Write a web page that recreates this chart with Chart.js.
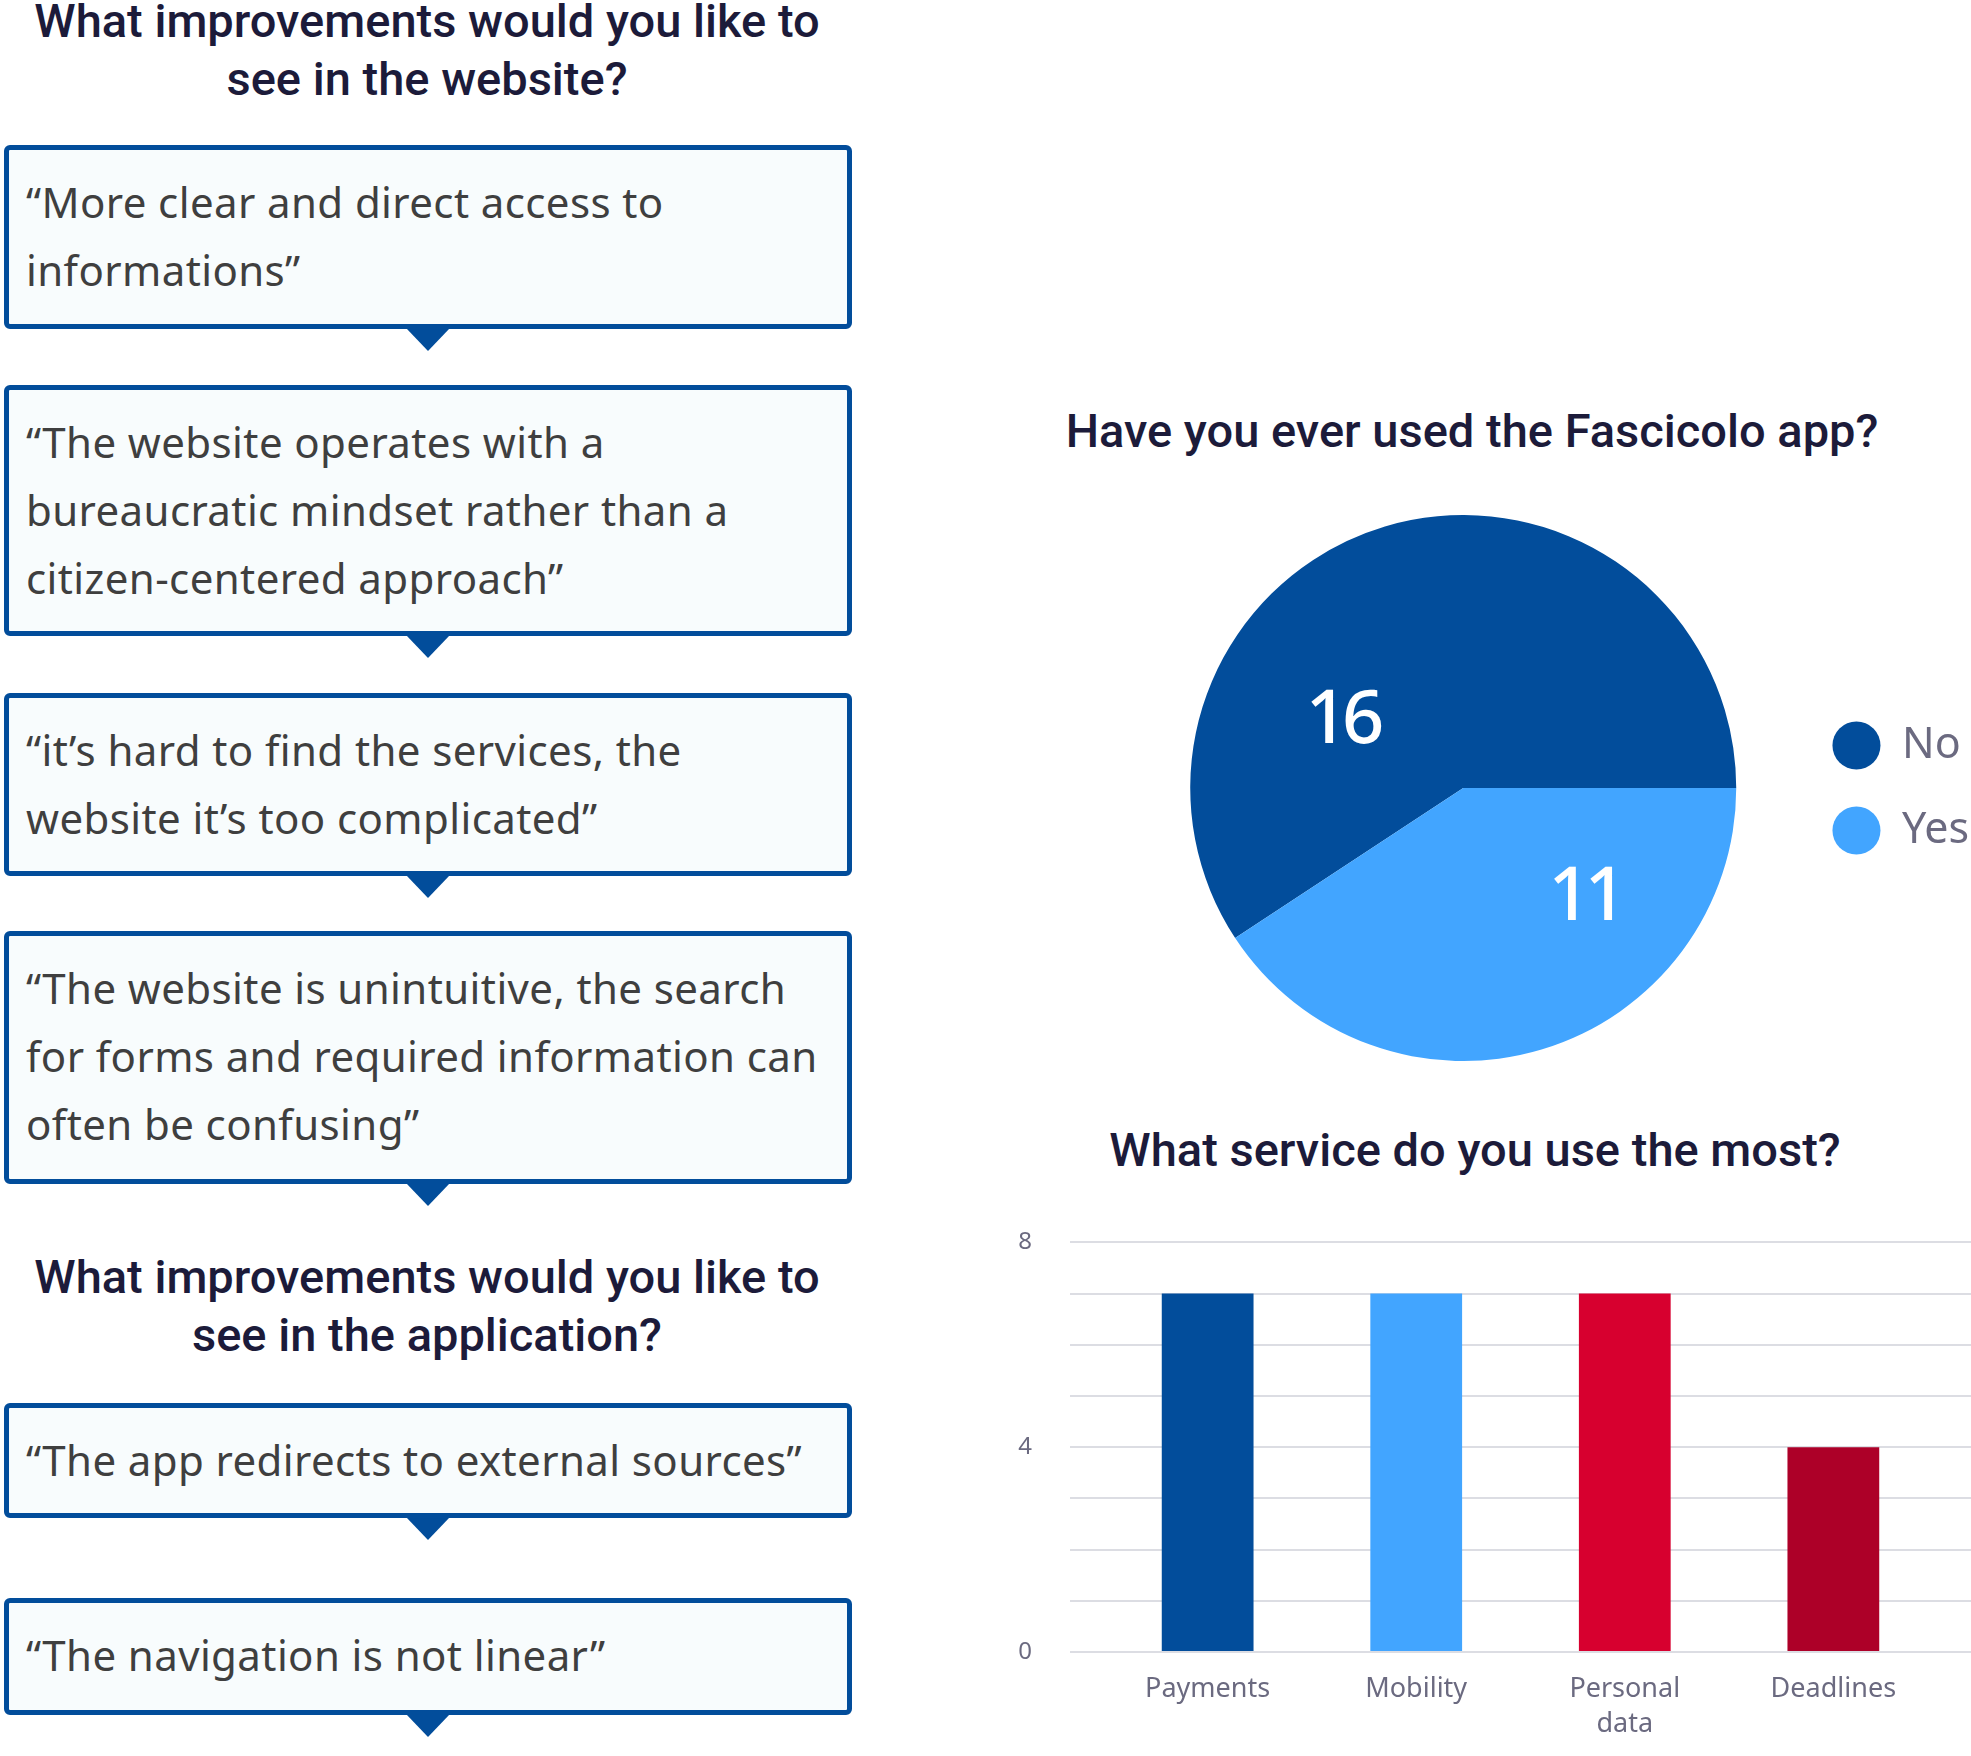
<!DOCTYPE html>
<html>
<head>
<meta charset="utf-8">
<script src="https://cdn.jsdelivr.net/npm/chart.js@4.4.1/dist/chart.umd.min.js"></script>
<style>
  body {
    margin: 0;
    width: 1971px;
    height: 1756px;
    overflow: hidden;
    position: relative;
    background: #ffffff;
    font-family: "Noto Sans", sans-serif;
  }
  .title {
    position: absolute;
    margin: 0;
    text-align: center;
    white-space: nowrap;
    font-family: Roboto, sans-serif;
    font-weight: 500;
    font-size: 47px;
    line-height: 58px;
    color: #1c1b3a;
  }
  .quote {
    position: absolute;
    left: 4px;
    width: 848px;
    box-sizing: border-box;
    border: 5px solid #024d9b;
    border-radius: 6px;
    background: #f8fcfd;
    padding: 18px 0 0 17px;
    font-size: 42px;
    letter-spacing: 0.4px;
    line-height: 68px;
    color: #3f3f3f;
  }
  .quote::after {
    content: "";
    position: absolute;
    left: 50%;
    margin-left: -22px;
    top: calc(100% + 4px);
    border-left: 22px solid transparent;
    border-right: 22px solid transparent;
    border-top: 23px solid #024d9b;
  }
  .chart-box { position: absolute; }
</style>
</head>
<body>

<h2 class="title" style="left:0; width:854px; top:-8px;">What improvements would you like to<br>see in the website?</h2>

<div class="quote" style="top:145px; height:184px;">“More clear and direct access to<br>informations”</div>
<div class="quote" style="top:385px; height:251px;">“The website operates with a<br>bureaucratic mindset rather than a<br>citizen-centered approach”</div>
<div class="quote" style="top:693px; height:183px;">“it’s hard to find the services, the<br>website it’s too complicated”</div>
<div class="quote" style="top:931px; height:253px;">“The website is unintuitive, the search<br>for forms and required information can<br>often be confusing”</div>

<h2 class="title" style="left:0; width:854px; top:1248px;">What improvements would you like to<br>see in the application?</h2>

<div class="quote" style="top:1403px; height:115px;">“The app redirects to external sources”</div>
<div class="quote" style="top:1598px; height:117px;">“The navigation is not linear”</div>

<h2 class="title" style="left:1022px; width:900px; top:402px;">Have you ever used the Fascicolo app?</h2>
<div class="chart-box" style="left:1136px; top:515px; width:843px; height:546px;">
  <canvas id="pieChart"></canvas>
</div>

<h2 class="title" style="left:1025px; width:900px; top:1121px;">What service do you use the most?</h2>
<div class="chart-box" style="left:990px; top:1190px; width:981px; height:562px;">
  <canvas id="barChart"></canvas>
</div>

<script>
const pieLabels = ["No", "Yes"];
const pieValues = [16, 11];

const barCategories = ["Payments", "Mobility", "Personal data", "Deadlines"];
const barValues = [7, 7, 7, 4];
const yTickLabels = [0, 4, 8];

const pieColors = ["#024d9b", "#42a5ff"];
const barColors = ["#024d9b", "#42a5ff", "#d7002f", "#ad0028"];
const mutedText = "#6b6a80";

const pieTotal = pieValues.reduce((a, b) => a + b, 0);

// white numbers written inside each slice
const sliceLabels = {
    id: "sliceLabels",
    afterDatasetsDraw(chart, args, opts) {
        const ctx = chart.ctx;
        const meta = chart.getDatasetMeta(0);
        ctx.save();
        ctx.fillStyle = "#ffffff";
        ctx.font = opts.font;
        ctx.letterSpacing = opts.spacing;
        ctx.textAlign = "center";
        ctx.textBaseline = "middle";
        meta.data.forEach((arc, i) => {
            const p = arc.getProps(["x", "y", "startAngle", "endAngle", "outerRadius"], true);
            const angle = (p.startAngle + p.endAngle) / 2 + opts.shift;
            const r = p.outerRadius * opts.distance;
            ctx.fillText(chart.data.datasets[0].data[i], p.x + Math.cos(angle) * r, p.y + Math.sin(angle) * r + opts.dy);
        });
        ctx.restore();
    }
};

new Chart(document.getElementById("pieChart"), {
    type: "pie",
    data: {
        labels: pieLabels,
        datasets: [{
            data: pieValues,
            backgroundColor: pieColors,
            borderWidth: 0,
            hoverOffset: 0
        }]
    },
    options: {
        responsive: true,
        maintainAspectRatio: false,
        animation: false,
        rotation: 90 - pieValues[0] / pieTotal * 360,
        plugins: {
            legend: {
                position: "right",
                labels: {
                    usePointStyle: true,
                    pointStyle: "circle",
                    pointStyleWidth: 48,
                    boxHeight: 34,
                    padding: 42,
                    color: mutedText,
                    font: { family: "Noto Sans", size: 43 }
                }
            },
            tooltip: { enabled: false },
            sliceLabels: { font: "500 74px 'Noto Sans'", spacing: "-6px", shift: -0.65, distance: 0.55, dy: 22 }
        }
    },
    plugins: [sliceLabels]
});

new Chart(document.getElementById("barChart"), {
    type: "bar",
    data: {
        datasets: [{
            data: barCategories.map((c, i) => ({ x: i, y: barValues[i] })),
            backgroundColor: barColors,
            barPercentage: 0.44,
            categoryPercentage: 1
        }]
    },
    options: {
        responsive: true,
        maintainAspectRatio: false,
        animation: false,
        layout: { padding: { top: 15, left: 0, right: 0, bottom: 0 } },
        plugins: {
            legend: { display: false },
            tooltip: { enabled: false }
        },
        scales: {
            x: {
                type: "linear",
                offset: false,
                min: -0.66,
                max: 3.66,
                grid: { display: false, drawTicks: false },
                border: { display: false },
                afterBuildTicks: (scale) => {
                    scale.ticks = barCategories.map((c, i) => ({ value: i }));
                },
                afterFit: (scale) => {
                    scale.height = 100;
                },
                ticks: {
                    autoSkip: false,
                    maxRotation: 0,
                    padding: 20,
                    color: mutedText,
                    font: { family: "Noto Sans", size: 27, lineHeight: 1.3 },
                    callback: (v) => {
                        const label = barCategories[v];
                        return label.length > 10 ? label.split(" ") : label;
                    }
                }
            },
            y: {
                min: 0,
                max: 8,
                grid: { color: "#dcdde3", lineWidth: 2, drawTicks: false },
                border: { display: false },
                afterFit: (scale) => {
                    scale.width = 80;
                },
                ticks: {
                    stepSize: 1,
                    padding: 38,
                    color: mutedText,
                    font: { family: "Noto Sans", size: 24 },
                    callback: (v) => yTickLabels.includes(v) ? v : ""
                }
            }
        }
    }
});
</script>
</body>
</html>
